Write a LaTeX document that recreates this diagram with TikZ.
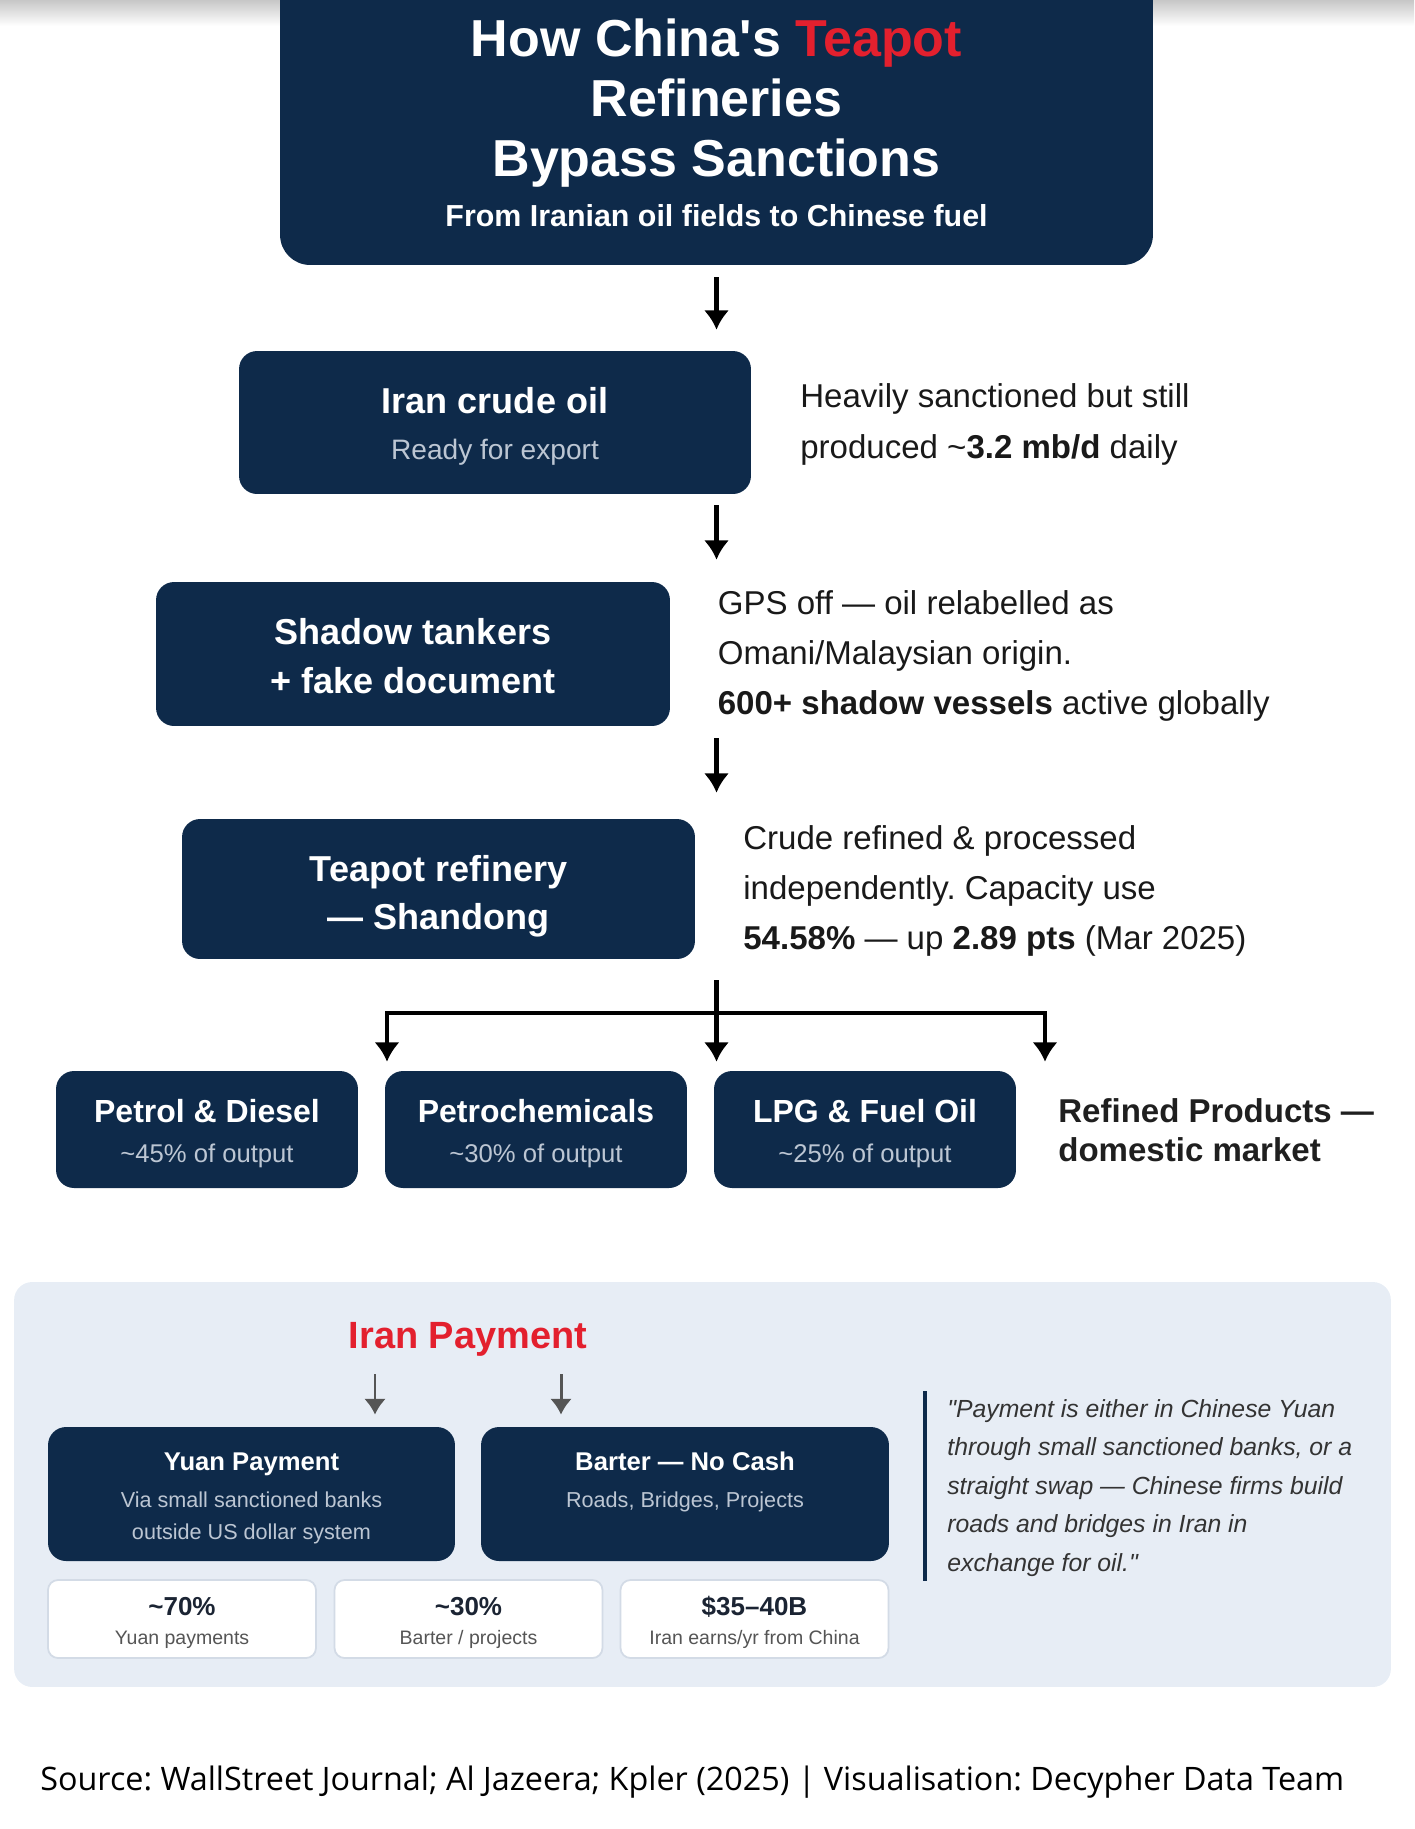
\documentclass[tikz,border=0pt]{standalone}
\usepackage{fontspec}
\setmainfont{Liberation Sans}
\newfontfamily\srcfont{Open Sans}
\usetikzlibrary{positioning,arrows.meta}
\definecolor{navy}{HTML}{0E2A4A}
\definecolor{teapotred}{HTML}{E3202E}
\definecolor{subgrey}{HTML}{BCC6D3}
\definecolor{panelbg}{HTML}{E7EDF5}
\definecolor{statline}{HTML}{D3DBE6}
\definecolor{inkgrey}{HTML}{555555}
\definecolor{statink}{HTML}{1B2433}
\newcommand{\fs}[2]{\fontsize{#1}{#2}\selectfont}
\newcommand{\topgap}[1]{\rule{0pt}{#1}}
\frenchspacing

\begin{document}
\begin{tikzpicture}[
  x=0.02cm, y=-0.02cm,
  navybox/.style={rectangle,rounded corners=0.36cm,fill=navy,text=white,align=center,inner sep=0pt},
  flow/.style={line width=2.6pt,-{Latex[length=11pt,width=14.5pt]}},
  payarrow/.style={line width=1.7pt,inkgrey,-{Latex[length=9pt,width=12.5pt]}},
  sidetext/.style={anchor=west,align=left,inner sep=0pt,text=black!90,font=\fs{18.8pt}{29pt}},
  prodbox/.style={navybox,minimum width=6.04cm,minimum height=2.34cm,font=\fs{18.2pt}{23pt}\bfseries},
  statbox/.style={rectangle,rounded corners=0.2cm,fill=white,draw=statline,line width=1pt,align=center,
    minimum width=5.36cm,minimum height=1.56cm,font=\fs{11.1pt}{16.8pt},text=inkgrey}
]
\useasboundingbox (0,0) rectangle (1414,1829);
\clip (0,0) rectangle (1414,1829);
\shade[top color=black!22,bottom color=white] (0,0) rectangle (1414,26);

\node[navybox,rounded corners=0.6cm,minimum width=17.46cm,minimum height=6cm] (titlebox) at (716.5,115) {};
\node[text=white,align=center,font=\fs{29.6pt}{34.1pt}\bfseries] (titletext) at (716.5,103)
  {How China\textquotesingle s {\color{teapotred}Teapot}\\Refineries\\Bypass Sanctions};
\node[text=white,font=\fs{17.3pt}{20pt}\bfseries] (subtitle) at (716.5,216) {From Iranian oil fields to Chinese fuel};

\node[navybox,minimum width=10.24cm,minimum height=2.86cm,font=\fs{16pt}{26pt}] (crude) at (495,422.5)
  {{\fs{20.5pt}{26pt}\bfseries\topgap{19.6pt}Iran crude oil}\\{\color{subgrey}Ready for export}};
\node[sidetext] (crudenote) at (800,424) {Heavily sanctioned but still\\produced \textasciitilde\textbf{3.2 mb/d} daily};

\node[navybox,minimum width=10.28cm,minimum height=2.88cm,font=\fs{20.5pt}{28pt}\bfseries] (tankers) at (413,654)
  {\topgap{17.6pt}Shadow tankers\\+ fake document};
\node[sidetext,font=\fs{18.8pt}{28.5pt}] (tankernote) at (717.5,656)
  {GPS off — oil relabelled as\\Omani/Malaysian origin.\\\textbf{600+ shadow vessels} active globally};

\node[navybox,minimum width=10.26cm,minimum height=2.8cm,font=\fs{20.5pt}{27pt}\bfseries] (refinery) at (438.5,889)
  {\topgap{23pt}Teapot refinery\\— Shandong};
\node[sidetext,font=\fs{18.8pt}{28.5pt}] (refinerynote) at (743,891)
  {Crude refined \& processed\\independently. Capacity use\\\textbf{54.58\%} — up \textbf{2.89 pts} (Mar 2025)};

\draw[flow,shorten <=0.24cm,shorten >=0.42cm] (titlebox.south) -- (titlebox.south |- crude.north);
\draw[flow,shorten <=0.22cm,shorten >=0.44cm] (titlebox.south |- crude.south) -- (titlebox.south |- tankers.north);
\draw[flow,shorten <=0.24cm,shorten >=0.52cm] (titlebox.south |- tankers.south) -- (titlebox.south |- refinery.north);

\node[prodbox] (petrol) at (207,1129.5) {\topgap{18pt}Petrol \& Diesel\\{\fs{14.6pt}{23pt}\mdseries\color{subgrey}\textasciitilde 45\% of output}};
\node[prodbox] (petro) at (536,1129.5) {\topgap{18pt}Petrochemicals\\{\fs{14.6pt}{23pt}\mdseries\color{subgrey}\textasciitilde 30\% of output}};
\node[prodbox] (lpg) at (865,1129.5) {\topgap{18pt}LPG \& Fuel Oil\\{\fs{14.6pt}{23pt}\mdseries\color{subgrey}\textasciitilde 25\% of output}};
\node[anchor=west,align=left,inner sep=0pt,font=\fs{18.8pt}{22.2pt}\bfseries,text=black!88] (market) at (1058,1130)
  {Refined Products —\\domestic market};

\coordinate (forkL) at (387,1013);
\coordinate (forkR) at (1045,1013);
\draw[flow,shorten <=0.42cm,shorten >=0.18cm] (titlebox.south |- refinery.south) -- (titlebox.south |- lpg.north);
\draw[line width=2.6pt,{Latex[length=11pt,width=14.5pt]}-{Latex[length=11pt,width=14.5pt]},shorten <=0.18cm,shorten >=0.18cm]
  (forkL |- petro.north) -- (forkL) -- (forkR) -- (forkR |- lpg.north);

\node[rectangle,rounded corners=0.36cm,fill=panelbg,minimum width=27.54cm,minimum height=8.1cm] (panel) at (702.5,1484.5) {};
\node[text=teapotred,font=\fs{21.6pt}{26pt}\bfseries] (payhead) at (468,1339) {Iran Payment};

\node[navybox,minimum width=8.14cm,minimum height=2.68cm,font=\fs{12.3pt}{18.2pt}] (yuan) at (251.5,1494)
  {{\fs{14.6pt}{18pt}\bfseries\topgap{14.7pt}Yuan Payment}\\[3pt]{\color{subgrey}Via small sanctioned banks}\\{\color{subgrey}outside US dollar system}};
\node[navybox,minimum width=8.16cm,minimum height=2.68cm,font=\fs{12.3pt}{18.2pt}] (barter) at (685,1494)
  {{\fs{14.6pt}{18pt}\bfseries\topgap{14.7pt}Barter — No Cash}\\[3pt]{\color{subgrey}Roads, Bridges, Projects}\\\vphantom{Ay}};

\coordinate (payL) at (375,1374);
\coordinate (payR) at (561,1374);
\draw[payarrow,shorten >=0.24cm] (payL) -- (payL |- yuan.north);
\draw[payarrow,shorten >=0.24cm] (payR) -- (payR |- barter.north);

\node[statbox] (statyuan) at (182,1619) {{\fs{14.8pt}{16.8pt}\bfseries\color{statink}\topgap{14.8pt}\textasciitilde 70\%}\\Yuan payments};
\node[statbox] (statbarter) at (468.5,1619) {{\fs{14.8pt}{16.8pt}\bfseries\color{statink}\topgap{14.8pt}\textasciitilde 30\%}\\Barter / projects};
\node[statbox] (statearn) at (754.5,1619) {{\fs{14.8pt}{16.8pt}\bfseries\color{statink}\topgap{14.8pt}\$35–40B}\\Iran earns/yr from China};

\draw[navy,line width=2.3pt] (925,1391) -- (925,1581);
\node[anchor=west,align=left,inner sep=0pt,font=\fs{14.1pt}{21.9pt}\itshape,text=black!80] (quote) at (947,1488)
  {\textquotedbl Payment is either in Chinese Yuan\\through small sanctioned banks, or a\\straight swap — Chinese firms build\\roads and bridges in Iran in\\exchange for oil.\textquotedbl};

\node[anchor=west,inner sep=0pt,font=\srcfont\fs{18.4pt}{22pt},text=black] (source) at (40,1782)
  {Source: WallStreet Journal; Al Jazeera; Kpler (2025) | Visualisation: Decypher Data Team};
\end{tikzpicture}
\end{document}
